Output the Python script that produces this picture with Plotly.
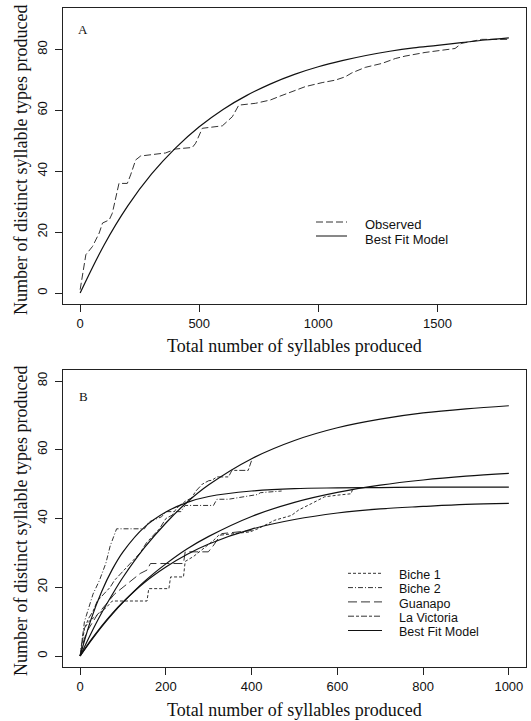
import plotly.graph_objects as go

# ---------------- Panel A data ----------------
A_obs_x = [0, 24, 52, 80, 94, 122, 135, 163, 198, 212, 233, 254, 359, 401, 471, 485, 513,
           597, 639, 666, 736, 799, 834, 890, 946, 1016, 1071, 1113, 1141, 1197, 1267,
           1323, 1364, 1448, 1574, 1602, 1686, 1798]
A_obs_y = [1.1, 12.6, 15.3, 19.7, 23, 24, 26.2, 36, 36, 38.8, 43.7, 45, 46, 47.3, 47.8,
           49.2, 54.1, 54.9, 57.9, 61.7, 62.3, 63.4, 64.5, 66.1, 67.8, 69.1, 69.9, 71,
           72.3, 74.1, 75.4, 77, 77.8, 79, 80.3, 82, 83.3, 83.3]
A_fit_x = [0, 100, 200, 300, 400, 500, 600, 700, 800, 900, 1000, 1100, 1200, 1300,
           1400, 1500, 1600, 1700, 1800]
A_fit_y = [0, 15.7, 28.6, 39.1, 47.6, 54.6, 60.3, 64.9, 68.7, 71.8, 74.3, 76.3, 78.0,
           79.4, 80.5, 81.3, 82.2, 83.1, 83.8]
A_xticks = [0, 500, 1000, 1500]
A_yticks = [0, 20, 40, 60, 80]

# ---------------- Panel B data ----------------
B_fit_x = [0, 25, 50, 75, 100, 150, 200, 250, 300, 400, 500, 600, 700, 800, 900, 1000]
B_fit_1 = [0, 6.5, 12.5, 17.9, 22.9, 31.5, 38.7, 44.8, 49.8, 57.4, 62.7, 66.4, 68.9, 70.7, 71.9, 72.8]
B_fit_2 = [0, 10.5, 18.7, 25.2, 30.3, 37.5, 41.9, 44.7, 46.4, 48.0, 48.7, 48.9, 49.0, 49.1, 49.1, 49.1]
B_fit_3 = [0, 4.4, 8.5, 12.2, 15.6, 21.7, 26.8, 31.2, 34.8, 40.6, 44.7, 47.6, 49.7, 51.2, 52.3, 53.1]
B_fit_4 = [0, 4.6, 8.7, 12.4, 15.7, 21.4, 25.9, 29.6, 32.6, 36.9, 39.7, 41.6, 42.8, 43.5, 44.1, 44.4]

biche1_x = [0, 5, 10, 20, 40, 60, 75, 156, 160, 207, 211, 241, 245, 265, 292, 310, 323,
            396, 416, 454, 493, 510, 539, 570, 601, 632, 636]
biche1_y = [0, 5, 8, 10, 12, 14, 16, 16, 19.6, 19.6, 23, 23, 27.5, 29, 31.7, 33.5, 35.1,
            36.1, 37.1, 39.5, 40.9, 42.5, 44.3, 46.3, 46.8, 47.2, 48.7]
biche2_x = [0, 5, 10, 20, 30, 45, 60, 70, 85, 150, 160, 190, 200, 235, 245, 268, 311,
            319, 346, 415, 420, 470]
biche2_y = [0, 5, 10, 14, 18, 22, 27, 32, 37, 37, 39, 40.5, 42, 42, 43.8, 43.8, 43.8,
            45.6, 45.6, 47, 47.5, 48]
guanapo_x = [0, 5, 15, 25, 40, 60, 80, 100, 120, 140, 156, 164, 241, 245, 272, 299,
             310, 325, 330, 400]
guanapo_y = [0, 3, 7, 9, 12, 15, 18, 20, 22, 24, 25, 26.9, 26.9, 30.3, 30.3, 30.3,
             32, 35, 35.6, 36.5]
victoria_x = [0, 5, 10, 20, 30, 40, 55, 70, 80, 95, 110, 125, 140, 155, 170, 185, 200,
              215, 225, 245, 260, 270, 285, 300, 307, 319, 346, 354, 392, 400]
victoria_y = [0, 4, 8, 11, 13, 16, 18, 20, 22, 24, 26, 28, 30, 33, 35, 37, 40, 41, 43,
              45, 46, 48, 50, 51, 51.1, 52.1, 52.1, 54, 54, 56.9]
B_xticks = [0, 200, 400, 600, 800, 1000]
B_yticks = [0, 20, 40, 60, 80]

# ---------------- Styles ----------------
W, H = 531, 721
SERIF = "Liberation Serif, Times New Roman, serif"
SANS = "Liberation Sans, Arial, sans-serif"
FRAME = "#222"
OBS = "#333"
FIT = "#111"

def px(x):
    return x / W

def py(y):
    return 1 - y / H

fig = go.Figure()

# Panel A traces
fig.add_trace(go.Scatter(x=A_obs_x, y=A_obs_y, mode="lines", xaxis="x", yaxis="y",
                         line=dict(color=OBS, width=1, dash="7px,3px"), showlegend=False))
fig.add_trace(go.Scatter(x=A_fit_x, y=A_fit_y, mode="lines", xaxis="x", yaxis="y",
                         line=dict(color=FIT, width=1.2, shape="spline"), showlegend=False))

# Panel B traces
styles = {
    "Biche 1": "3px,2px",
    "Biche 2": "5px,2px,1px,2px",
    "Guanapo": "9px,4px",
    "La Victoria": "6px,2px,3px,2px",
}
for name, xs, ys in [("Biche 1", biche1_x, biche1_y), ("Biche 2", biche2_x, biche2_y),
                     ("Guanapo", guanapo_x, guanapo_y), ("La Victoria", victoria_x, victoria_y)]:
    fig.add_trace(go.Scatter(x=xs, y=ys, mode="lines", xaxis="x2", yaxis="y2",
                             line=dict(color=OBS, width=1, dash=styles[name]), showlegend=False))
for ys in [B_fit_1, B_fit_2, B_fit_3, B_fit_4]:
    fig.add_trace(go.Scatter(x=B_fit_x, y=ys, mode="lines", xaxis="x2", yaxis="y2",
                             line=dict(color=FIT, width=1.2, shape="spline"), showlegend=False))

axis_common = dict(showline=True, linecolor=FRAME, linewidth=1, mirror=True,
                   ticks="outside", ticklen=7, tickcolor=FRAME, tickwidth=1,
                   showgrid=False, zeroline=False,
                   tickfont=dict(family=SANS, size=13, color="#111"))

xdom = [px(63), px(526)]
fig.update_layout(
    width=W, height=H, autosize=False,
    margin=dict(l=0, r=0, t=0, b=0),
    paper_bgcolor="white", plot_bgcolor="white",
    xaxis=dict(domain=xdom, range=[-72, 1872], tickvals=A_xticks, anchor="y", **axis_common),
    yaxis=dict(domain=[py(304), py(8)], range=[-3.6, 93.6], tickvals=A_yticks,
               tickangle=-90, anchor="x", ticklabelstandoff=3, **axis_common),
    xaxis2=dict(domain=xdom, range=[-40, 1040], tickvals=B_xticks, anchor="y2", **axis_common),
    yaxis2=dict(domain=[py(667), py(370)], range=[-3.2, 83.2], tickvals=B_yticks,
                tickangle=-90, anchor="x2", ticklabelstandoff=3, **axis_common),
)

ann = []
shapes = []

def text(x, y, s, family, size, xanchor="center", angle=0):
    ann.append(dict(x=px(x), y=py(y), xref="paper", yref="paper", showarrow=False,
                    xanchor=xanchor, yanchor="middle", textangle=angle, text=s,
                    borderpad=0, font=dict(family=family, size=size, color="#111")))

# Axis titles
for yc in [346, 710]:
    text(294, yc, "Total number of syllables produced", SERIF, 18)
for yc in [160, 521]:
    text(21, yc, "Number of distinct syllable types produced", SERIF, 18, angle=-90)
# Panel letters
text(83, 29.5, "A", SERIF, 13)
text(83.5, 396, "B", SERIF, 13)

# Legend A
legA = [("Observed", "7px,3px", OBS, 222, 225), ("Best Fit Model", "solid", FIT, 236, 239)]
for label, dash, col, yl, yt in legA:
    shapes.append(dict(type="line", xref="paper", yref="paper", x0=px(316), x1=px(347),
                       y0=py(yl), y1=py(yl), line=dict(color=col, width=1, dash=dash)))
    text(364, yt, label, SANS, 13, xanchor="left")

# Legend B
legB = [("Biche 1", styles["Biche 1"], OBS, 573.3, 575),
        ("Biche 2", styles["Biche 2"], OBS, 587.6, 589.3),
        ("Guanapo", styles["Guanapo"], OBS, 601.9, 603.6),
        ("La Victoria", styles["La Victoria"], OBS, 616.2, 617.9),
        ("Best Fit Model", "solid", FIT, 630.5, 632.2)]
for label, dash, col, yl, yt in legB:
    shapes.append(dict(type="line", xref="paper", yref="paper", x0=px(348), x1=px(382),
                       y0=py(yl), y1=py(yl), line=dict(color=col, width=1, dash=dash)))
    text(398, yt, label, SANS, 12.5, xanchor="left")

fig.update_layout(annotations=ann, shapes=shapes)
fig.write_html("out.html")
